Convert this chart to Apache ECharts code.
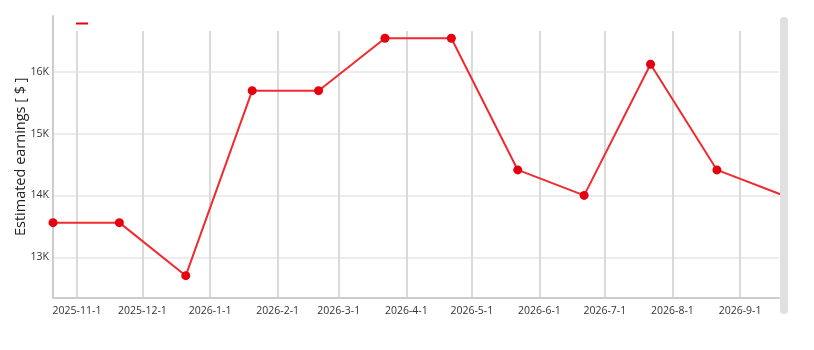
<!DOCTYPE html>
<html>
<head>
<meta charset="utf-8">
<script src="https://cdn.jsdelivr.net/npm/echarts@6/dist/echarts.min.js"></script>
<style>
html,body{margin:0;padding:0;background:#fff;}
#chart{width:814px;height:350px;}
</style>
</head>
<body>
<div id="chart"></div>
<script>
// Data
const dates = [
  '2025-10-21 00:00', '2025-11-20 10:30', '2025-12-20 21:00', '2026-01-20 07:30',
  '2026-02-19 18:00', '2026-03-22 04:30', '2026-04-21 15:00', '2026-05-22 01:30',
  '2026-06-21 12:00', '2026-07-21 22:30', '2026-08-21 09:00', '2026-09-20 19:30'
];
const earnings = [13560, 13560, 12703, 15693, 15693, 16540, 16540, 14412, 14000, 16120, 14412, 14000];
const seriesName = ' ';
const yAxisName = 'Estimated earnings [ $ ]';
const xMin = '2025-10-21 00:00';
const xMax = '2026-09-18 20:00';
const yMin = 12350;
const yMax = 16900;

const chart = echarts.init(document.getElementById('chart'), null, {renderer: 'canvas'});
const font = 'Open Sans, Noto Sans, sans-serif';
const MONTH = 28 * 86400000;
const MONTHMAX = 31 * 86400000;

const points = dates.map((d, i) => [d, earnings[i]]);

const option = {
  animation: false,
  backgroundColor: '#fff',
  textStyle: {fontFamily: font},
  legend: {
    left: 71, top: 13,
    icon: 'rect', itemWidth: 12, itemHeight: 2,
    data: [seriesName],
    textStyle: {fontSize: 11, color: '#333'},
    selectedMode: false
  },
  grid: [
    {left: 53, right: 35, top: 16, bottom: 52.5, outerBoundsMode: 'none', containLabel: false},
    {left: 53, right: 35, top: 31, bottom: 52.5, outerBoundsMode: 'none', containLabel: false}
  ],
  xAxis: [
    {
      type: 'time', gridIndex: 0, min: xMin, max: xMax,
      minInterval: MONTH, maxInterval: MONTHMAX,
      axisLine: {show: true, lineStyle: {color: '#cccccc', width: 2}},
      axisTick: {show: false},
      splitLine: {show: false},
      axisLabel: {
        formatter: '{yyyy}-{M}-{d}', color: '#333', fontSize: 10.5, fontFamily: font,
        margin: 8, showMinLabel: false, showMaxLabel: false, hideOverlap: false
      }
    },
    {
      type: 'time', gridIndex: 1, min: xMin, max: xMax,
      minInterval: MONTH, maxInterval: MONTHMAX,
      axisLine: {show: false}, axisTick: {show: false}, axisLabel: {show: false},
      splitLine: {show: true, showMinLine: false, showMaxLine: false, lineStyle: {color: '#dadada', width: 2}}
    }
  ],
  yAxis: [
    {
      type: 'value', gridIndex: 0, min: yMin, max: yMax,
      name: yAxisName, nameLocation: 'middle', nameGap: 25, nameMoveOverlap: false,
      nameTextStyle: {fontSize: 14.5, color: '#222', fontFamily: font},
      axisLine: {show: true, lineStyle: {color: '#cccccc', width: 2}},
      axisTick: {show: false},
      axisLabel: {
        formatter: v => (v / 1000) + 'K', color: '#333', fontSize: 10.5, fontFamily: font,
        margin: 4, showMinLabel: false, showMaxLabel: false
      },
      splitLine: {show: true, showMinLine: false, showMaxLine: false, lineStyle: {color: '#ececec', width: 2}}
    },
    {
      type: 'value', gridIndex: 1, show: false, splitLine: {show: false}
    }
  ],
  series: [
    {
      name: seriesName, type: 'line', xAxisIndex: 0, yAxisIndex: 0,
      data: points, clip: true,
      symbol: 'circle', symbolSize: 9, showSymbol: true,
      lineStyle: {color: '#ef2b2f', width: 2},
      itemStyle: {color: '#e6000f'},
      z: 3
    }
  ],
  graphic: [
    {type: 'rect', left: 780, top: 17, shape: {width: 8, height: 297, r: 4}, style: {fill: '#e0e0e0'}, z: 10}
  ]
};
chart.setOption(option);
</script>
</body>
</html>
